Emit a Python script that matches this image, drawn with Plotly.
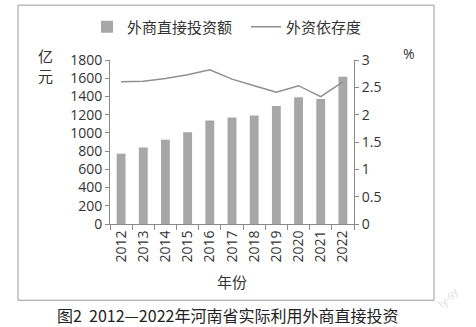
import plotly.graph_objects as go

years = ["2012", "2013", "2014", "2015", "2016", "2017", "2018", "2019", "2020", "2021", "2022"]
fdi = [772, 840, 925, 1008, 1136, 1170, 1190, 1295, 1390, 1372, 1615]
dependence = [2.60, 2.61, 2.66, 2.73, 2.82, 2.65, 2.53, 2.41, 2.53, 2.33, 2.60]

left_ticks = list(range(0, 1801, 200))
right_ticks = [0, 0.5, 1, 1.5, 2, 2.5, 3]
right_labels = ["0", "0.5", "1", "1.5", "2", "2.5", "3"]

FONT = "Open Sans, Noto Sans CJK SC, sans-serif"
CJK = "Noto Sans CJK SC, sans-serif"
TXT = "#333333"
AX = "#8a8a8a"

fig = go.Figure()
fig.add_trace(go.Bar(x=years, y=fdi, name="外商直接投资额", marker_color="#a7a7a7",
                     marker_line_width=0, yaxis="y"))
fig.add_trace(go.Scatter(x=years, y=dependence, name="外资依存度", mode="lines",
                         line=dict(color="#8f8f8f", width=1.5), yaxis="y2"))

W, H = 476, 327
L, R, T, B = 110, 354, 60, 224.5
fig.update_layout(
    width=W, height=H,
    margin=dict(l=L, r=W - R, t=T, b=H - B, autoexpand=False),
    paper_bgcolor="white", plot_bgcolor="white",
    font=dict(family=FONT, size=14, color=TXT),
    bargap=0.6,
    showlegend=True,
    legend=dict(orientation="h", x=(87 - L) / (R - L), xanchor="left",
                y=(B - 27) / (B - T), yanchor="middle",
                font=dict(family=CJK, size=15, color=TXT),
                entrywidth=114, itemwidth=30, bgcolor="rgba(0,0,0,0)"),
    xaxis=dict(type="category", showline=True, linecolor=AX, linewidth=1,
               ticks="outside", tickson="boundaries", ticklen=5, tickcolor=AX,
               tickangle=-90, tickfont=dict(size=14, color=TXT), showgrid=False,
               title=dict(text="年份", font=dict(family=CJK, size=15, color=TXT), standoff=15)),
    yaxis=dict(range=[0, 1800], tickvals=left_ticks, showline=True, linecolor=AX, linewidth=1,
               ticks="outside", ticklen=4, tickcolor=AX, showgrid=False, zeroline=False,
               tickfont=dict(size=14, color=TXT)),
    yaxis2=dict(range=[0, 3], tickvals=right_ticks, ticktext=right_labels, overlaying="y",
                side="right", showline=True, linecolor=AX, linewidth=1,
                ticks="outside", ticklen=4, tickcolor=AX, showgrid=False, zeroline=False,
                tickfont=dict(size=14, color=TXT)),
)

def px_x(x):
    return (x - L) / (R - L)

def px_y(y):
    return (B - y) / (B - T)

# outer frame
fig.add_shape(type="rect", xref="paper", yref="paper",
              x0=px_x(18), x1=px_x(434), y0=px_y(301), y1=px_y(5),
              line=dict(color="#9a9a9a", width=1), layer="below")

fig.add_annotation(text="亿<br>元", xref="paper", yref="paper", x=px_x(45), y=px_y(66),
                   showarrow=False, font=dict(family=CJK, size=15, color=TXT),
                   xanchor="center", yanchor="middle")
fig.add_annotation(text="%", xref="paper", yref="paper", x=px_x(409), y=px_y(53),
                   showarrow=False, font=dict(family=FONT, size=14, color=TXT),
                   xanchor="center", yanchor="middle")
fig.add_annotation(text="图2\u00a0\u00a02012—2022年河南省实际利用外商直接投资", xref="paper", yref="paper",
                   x=px_x(227), y=px_y(316), showarrow=False, borderpad=0,
                   font=dict(family=CJK, size=16, color="#222222"),
                   xanchor="center", yanchor="middle")
fig.add_annotation(text="ly-sy", xref="paper", yref="paper", x=px_x(447), y=px_y(298),
                   showarrow=False, textangle=-45,
                   font=dict(family=FONT, size=11, color="#dddddd"),
                   xanchor="center", yanchor="middle")

fig.write_html("out.html")
